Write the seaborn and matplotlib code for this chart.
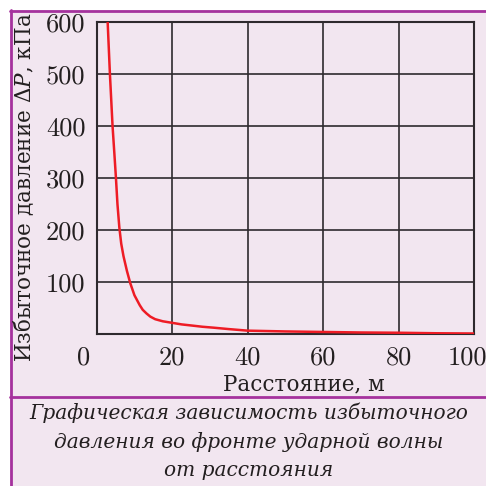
import matplotlib
matplotlib.use("Agg")
import matplotlib.pyplot as plt
import matplotlib.transforms as mtransforms
from matplotlib.patches import Rectangle
from matplotlib.lines import Line2D
import seaborn as sns
import pandas as pd

# ---- data ----
distance = [2.9, 3.5, 4.2, 4.7, 5.1, 5.5, 6.0, 6.5, 7.1, 8.0, 8.9, 10.0, 11.4, 12.2, 13.2, 14.2, 15.5, 17.5, 20,
            22.5, 25.6, 28, 31, 35, 40, 50, 60, 70, 80, 90, 100]
pressure = [600, 500, 400, 345, 300, 250, 205, 174, 150, 122, 98, 75, 56, 47, 40, 34, 29, 25, 22,
            19, 16.5, 14.5, 12.7, 10, 7, 5.5, 4.5, 3.5, 3, 2, 1.5]
x_ticks = [0, 20, 40, 60, 80, 100]
y_ticks = [100, 200, 300, 400, 500, 600]
x_label = "Расстояние, м"
y_label = "Избыточное давление Δ$P$, кПа"
caption_lines = ["Графическая зависимость избыточного",
                 "давления во фронте ударной волны",
                 "от расстояния"]

BG = "#f2e6f0"
PURPLE = "#a5329d"
GRID = "#2e2a2e"
RED = "#ee1c25"

sns.set_theme(style="white")
plt.rcParams["font.family"] = ["DejaVu Serif"]
plt.rcParams["mathtext.fontset"] = "dejavuserif"

W = H = 486
fig = plt.figure(figsize=(W / 100, H / 100), dpi=100, facecolor="white")

def fx(x):
    return x / W

def fy(y):
    return 1 - y / H

# pink panel and purple frame lines
fig.patches.append(Rectangle((fx(10), 0), 1 - fx(10), fy(10), transform=fig.transFigure,
                             facecolor=BG, edgecolor="none", zorder=-5))
for (xa, ya, xb, yb) in [(10, 11, 486, 11), (10.5, 10, 10.5, 486), (10, 397, 486, 397)]:
    fig.lines.append(Line2D([fx(xa), fx(xb)], [fy(ya), fy(yb)], transform=fig.transFigure,
                            color=PURPLE, linewidth=2.0, zorder=1))

ax = fig.add_axes([fx(96.7), fy(334.3), fx(474) - fx(96.7), fy(21.7) - fy(334.3)])
ax.set_facecolor(BG)

df = pd.DataFrame({"distance": distance, "pressure": pressure})
sns.lineplot(data=df, x="distance", y="pressure", ax=ax, color=RED, linewidth=1.8,
             estimator=None, sort=False, zorder=3, solid_joinstyle="round", solid_capstyle="round")

ax.set_xlim(0, 100)
ax.set_ylim(0, 600)
ax.set_xticks(x_ticks)
ax.set_yticks(y_ticks)
ax.set_xticklabels([str(v) for v in x_ticks], fontsize=19, family=["cmr10", "DejaVu Serif"], color="#231f20")
ax.set_yticklabels([str(v) for v in y_ticks], fontsize=19, family=["cmr10", "DejaVu Serif"], color="#231f20")
ax.tick_params(axis="both", length=0)
ax.tick_params(axis="x", pad=8)
ax.tick_params(axis="y", pad=8)
ax.grid(True, color=GRID, linewidth=1.2)
ax.set_axisbelow(True)
for s in ax.spines.values():
    s.set_color(GRID)
    s.set_linewidth(1.5)
ax.set_xlabel("")
ax.set_ylabel("")

# shift the end tick labels like in the reference
labels = ax.get_xticklabels()
labels[0].set_transform(labels[0].get_transform() + mtransforms.ScaledTranslation(-13 / 100, 0, fig.dpi_scale_trans))
labels[-1].set_transform(labels[-1].get_transform() + mtransforms.ScaledTranslation(-7 / 100, 0, fig.dpi_scale_trans))

fig.text(fx(303.5), fy(390.5), x_label, ha="center", va="baseline", fontsize=15.5, color="#231f20")
fig.text(fx(24), fy(187.5), y_label, ha="center", va="center", rotation=90, fontsize=15.5, color="#231f20")

for i, line in enumerate(caption_lines):
    fig.text(fx(249), fy(419 + 28.5 * i), line, ha="center", va="baseline", fontsize=14.5,
             style="italic", color="#231f20")

fig.savefig("out.png", dpi=100, facecolor="white")
